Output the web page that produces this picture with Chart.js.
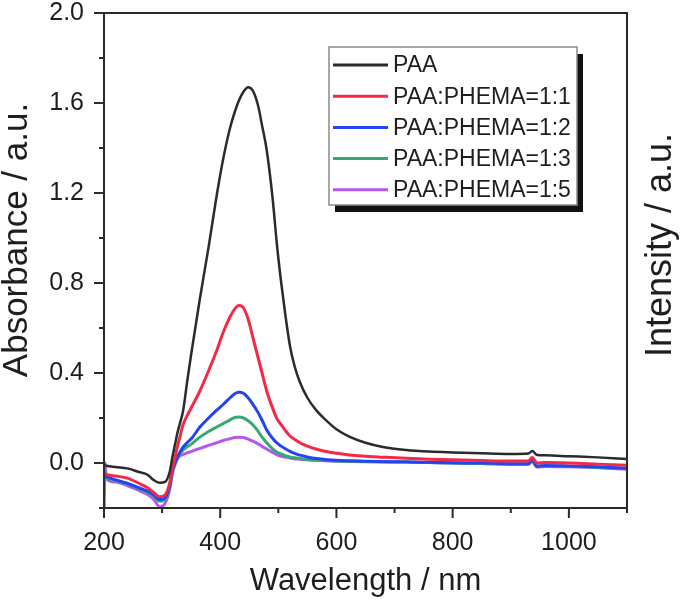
<!DOCTYPE html>
<html>
<head>
<meta charset="utf-8">
<script src="https://cdn.jsdelivr.net/npm/chart.js@4/dist/chart.umd.min.js"></script>
<style>
  body { margin: 0; background: #fff; }
  canvas { display: block; }
</style>
</head>
<body>
<canvas id="chart" width="685" height="608"></canvas>
<script>
// wavelengths (nm) shared by all spectra
const wavelengths = [200, 202, 204, 220, 240, 260, 275, 285, 296, 305, 313, 318, 322, 326, 330, 336, 343, 351,
  365, 380, 394, 405, 417, 425, 432, 440, 448, 456, 465, 472, 480, 490, 498, 505, 512, 520, 528, 537,
  550, 565, 580, 600, 623, 650, 680, 720, 760, 800, 850, 900, 930, 937, 945, 960, 1000, 1050, 1100];

const paa = [-0.01, -0.01, -0.012, -0.018, -0.024, -0.04, -0.052, -0.075, -0.088, -0.084, -0.04, 0.03, 0.08, 0.13, 0.17, 0.23, 0.36, 0.5,
  0.73, 0.96, 1.19, 1.35, 1.49, 1.56, 1.61, 1.65, 1.67, 1.655, 1.59, 1.5, 1.39, 1.18, 0.96, 0.8, 0.66, 0.52, 0.43, 0.36,
  0.29, 0.235, 0.195, 0.15, 0.116, 0.09, 0.071, 0.058, 0.051, 0.047, 0.043, 0.04, 0.042, 0.053, 0.036, 0.034, 0.03, 0.025, 0.018];

const ratio11 = [-0.045, -0.045, -0.05, -0.058, -0.067, -0.09, -0.11, -0.13, -0.15, -0.142, -0.09, -0.02, 0.02, 0.07, 0.11, 0.17, 0.21, 0.25,
  0.32, 0.41, 0.5, 0.58, 0.65, 0.685, 0.7, 0.69, 0.64, 0.56, 0.47, 0.4, 0.32, 0.245, 0.195, 0.17, 0.145, 0.12, 0.105, 0.09,
  0.075, 0.062, 0.052, 0.043, 0.036, 0.03, 0.026, 0.021, 0.017, 0.014, 0.011, 0.009, 0.009, 0.024, 0.0, 0.002, 0.0, -0.005, -0.01];

const ratio12 = [-0.06, -0.06, -0.062, -0.075, -0.09, -0.11, -0.125, -0.14, -0.162, -0.155, -0.1, -0.03, 0.0, 0.025, 0.045, 0.07, 0.09, 0.11,
  0.16, 0.2, 0.235, 0.26, 0.29, 0.308, 0.315, 0.31, 0.29, 0.262, 0.225, 0.19, 0.147, 0.11, 0.088, 0.075, 0.063, 0.052, 0.043, 0.035,
  0.027, 0.02, 0.016, 0.012, 0.01, 0.008, 0.006, 0.005, 0.003, 0.001, 0.0, -0.003, -0.003, 0.012, -0.014, -0.011, -0.013, -0.017, -0.023];

const ratio13 = [-0.065, -0.065, -0.067, -0.078, -0.094, -0.114, -0.13, -0.146, -0.17, -0.16, -0.105, -0.035, -0.002, 0.022, 0.04, 0.058, 0.072, 0.085,
  0.115, 0.14, 0.16, 0.175, 0.192, 0.202, 0.205, 0.2, 0.188, 0.17, 0.142, 0.115, 0.09, 0.063, 0.048, 0.04, 0.033, 0.027, 0.023, 0.02,
  0.016, 0.013, 0.011, 0.009, 0.008, 0.007, 0.005, 0.004, 0.002, 0.0, -0.002, -0.005, -0.005, 0.01, -0.016, -0.013, -0.015, -0.019, -0.025];

const ratio15 = [-0.25, 0.0, -0.07, -0.085, -0.1, -0.122, -0.14, -0.16, -0.195, -0.18, -0.12, -0.045, -0.01, 0.015, 0.03, 0.038, 0.045, 0.052,
  0.065, 0.078, 0.09, 0.1, 0.108, 0.113, 0.115, 0.113, 0.106, 0.097, 0.085, 0.074, 0.062, 0.047, 0.036, 0.03, 0.026, 0.022, 0.019, 0.017,
  0.014, 0.012, 0.01, 0.008, 0.007, 0.006, 0.005, 0.004, 0.002, 0.0, -0.002, -0.006, -0.006, 0.008, -0.018, -0.015, -0.017, -0.021, -0.028];

const seriesLabels = ["PAA", "PAA:PHEMA=1:1", "PAA:PHEMA=1:2", "PAA:PHEMA=1:3", "PAA:PHEMA=1:5"];
const seriesColors = ["#2b2b2b", "#f22a46", "#2344f0", "#36a874", "#b358ef"];
const seriesWidths = [2.5, 3, 3, 3, 3];
const allSeries = [paa, ratio11, ratio12, ratio13, ratio15];

const textColor = "#1e1e1e";
const fontFamily = "'Liberation Sans', Arial, sans-serif";

const datasets = allSeries.map((values, i) => ({
  label: seriesLabels[i],
  data: wavelengths.map((w, j) => ({ x: w, y: values[j] })),
  borderColor: seriesColors[i],
  borderWidth: seriesWidths[i],
  pointRadius: 0,
  cubicInterpolationMode: "monotone",
  fill: false
}));

// frame, tick marks, right/left titles and the boxed legend
const decorations = {
  id: "decorations",
  afterDraw(chart) {
    const { ctx, chartArea: a, scales: { x, y } } = chart;
    ctx.save();
    ctx.strokeStyle = "#2a2a2a";
    ctx.lineWidth = 2;
    ctx.strokeRect(a.left, a.top, a.right - a.left, a.bottom - a.top);

    ctx.beginPath();
    x.ticks.forEach(t => {
      const px = x.getPixelForValue(t.value);
      const len = t.value % 200 === 0 ? 10 : 5;
      ctx.moveTo(px, a.bottom);
      ctx.lineTo(px, a.bottom + len);
    });
    y.ticks.forEach(t => {
      const py = y.getPixelForValue(t.value);
      const major = Math.round(t.value * 10) % 4 === 0;
      ctx.moveTo(a.left, py);
      ctx.lineTo(a.left - (major ? 10 : 5), py);
    });
    ctx.stroke();

    // vertical axis titles
    ctx.fillStyle = textColor;
    ctx.textAlign = "center";
    ctx.textBaseline = "middle";
    ctx.font = "35px " + fontFamily;
    ctx.save();
    ctx.translate(17, 240);
    ctx.rotate(-Math.PI / 2);
    ctx.fillText("Absorbance / a.u.", 0, 0);
    ctx.restore();
    ctx.font = "36px " + fontFamily;
    ctx.save();
    ctx.translate(661, 245);
    ctx.rotate(-Math.PI / 2);
    ctx.fillText("Intensity / a.u.", 0, 0);
    ctx.restore();

    // legend box with drop shadow
    const bx = 329, by = 47, bw = 248, bh = 158;
    ctx.fillStyle = "#111";
    ctx.fillRect(bx + 6, by + 7, bw, bh);
    ctx.fillStyle = "#fff";
    ctx.fillRect(bx, by, bw, bh);
    ctx.strokeStyle = "#8a8a8a";
    ctx.lineWidth = 1.5;
    ctx.strokeRect(bx, by, bw, bh);

    ctx.font = "23px " + fontFamily;
    ctx.textAlign = "left";
    chart.data.datasets.forEach((ds, i) => {
      const ry = 65 + i * 31.2;
      ctx.strokeStyle = ds.borderColor;
      ctx.lineWidth = 3;
      ctx.beginPath();
      ctx.moveTo(333, ry);
      ctx.lineTo(388, ry);
      ctx.stroke();
      ctx.fillStyle = textColor;
      ctx.fillText(ds.label, 393, ry + 1);
    });
    ctx.restore();
  }
};

new Chart(document.getElementById("chart"), {
  type: "line",
  data: { datasets },
  options: {
    responsive: false,
    animation: false,
    layout: { padding: { top: 13, right: 58, left: 0, bottom: 0 } },
    plugins: { legend: { display: false }, tooltip: { enabled: false } },
    scales: {
      x: {
        type: "linear",
        min: 200,
        max: 1100,
        grid: { display: true, drawOnChartArea: false, drawTicks: true, tickLength: 10, color: "rgba(0,0,0,0)" },
        border: { display: false },
        ticks: {
          stepSize: 100,
          autoSkip: false,
          maxRotation: 0,
          padding: 10,
          color: textColor,
          font: { family: fontFamily, size: 25 },
          callback: v => (v % 200 === 0 ? String(v) : "")
        },
        title: {
          display: true,
          text: "Wavelength / nm",
          color: textColor,
          font: { family: fontFamily, size: 31 },
          padding: { top: 0, bottom: 8 }
        },
        afterFit(scale) {
          scale.height = 100;
          scale.paddingLeft = 0;
          scale.paddingRight = 0;
        }
      },
      y: {
        min: -0.2,
        max: 2.0,
        grid: { display: true, drawOnChartArea: false, drawTicks: true, tickLength: 10, color: "rgba(0,0,0,0)" },
        border: { display: false },
        ticks: {
          stepSize: 0.2,
          autoSkip: false,
          padding: 10,
          color: textColor,
          font: { family: fontFamily, size: 25 },
          callback: v => {
            const k = Math.round(v * 10);
            return k >= 0 && k % 4 === 0 ? (k / 10).toFixed(1) : "";
          }
        },
        afterFit(scale) {
          scale.width = 104;
          scale.paddingTop = 0;
          scale.paddingBottom = 0;
        }
      }
    }
  },
  plugins: [decorations]
});
</script>
</body>
</html>
